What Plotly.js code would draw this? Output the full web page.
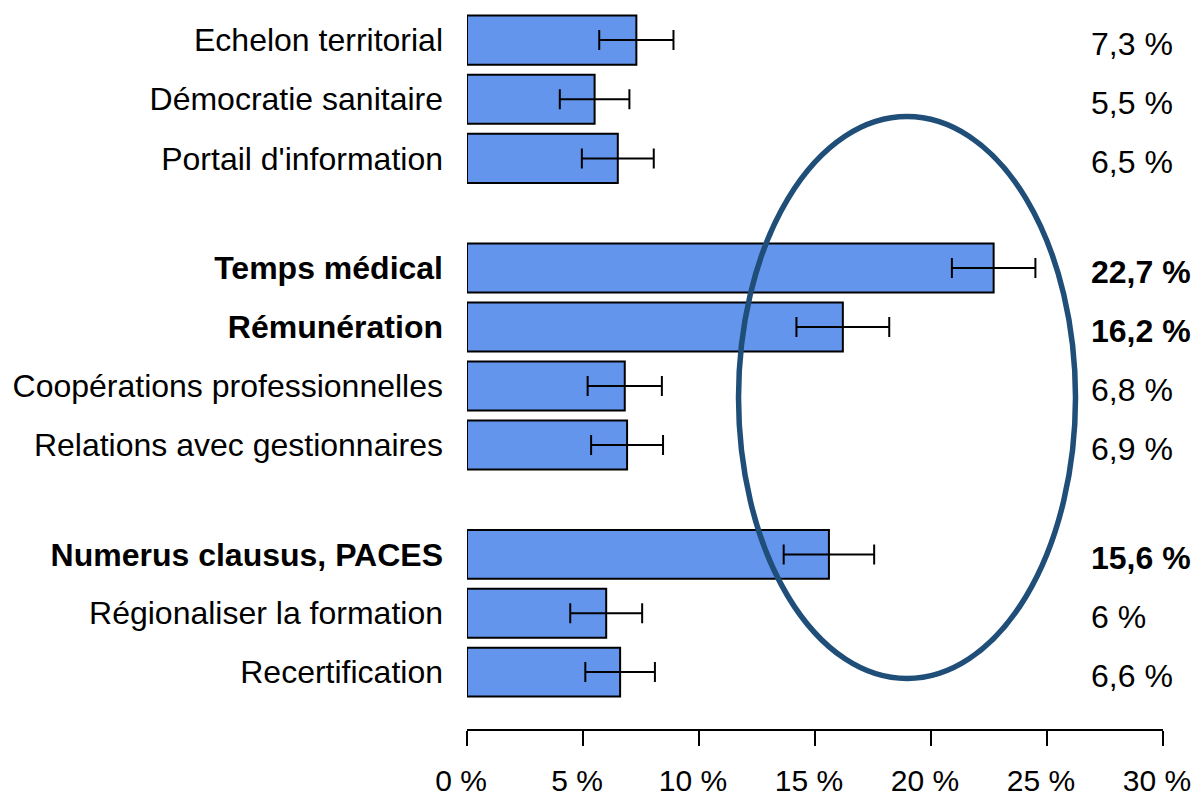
<!DOCTYPE html>
<html>
<head>
<meta charset="utf-8">
<script src="https://cdn.plot.ly/plotly-3.0.1.min.js"></script>
<style>html,body{margin:0;padding:0;background:#fff;}#chart{width:1197px;height:798px;}</style>
</head>
<body>
<div id="chart"></div>
<script>
// Data
const categories = [
  "Echelon territorial", "Démocratie sanitaire", "Portail d'information",
  "Temps médical", "Rémunération", "Coopérations professionnelles", "Relations avec gestionnaires",
  "Numerus clausus, PACES", "Régionaliser la formation", "Recertification"
];
const groups = [1, 1, 1, 2, 2, 2, 2, 3, 3, 3];
const values = [7.3, 5.5, 6.5, 22.7, 16.2, 6.8, 6.9, 15.6, 6.0, 6.6];
const errors = [1.6, 1.5, 1.55, 1.8, 2.0, 1.6, 1.55, 1.95, 1.55, 1.5];
const bold = [false, false, false, true, true, false, false, true, false, false];
const xTickVals = [0, 5, 10, 15, 20, 25, 30];
const xTickText = ["0 %", "5 %", "10 %", "15 %", "20 %", "25 %", "30 %"];

const FONT = "'Liberation Sans', Arial, sans-serif";
const FS = 32;
const fmt = v => String(v).replace('.', ',') + ' %';
const lab = (s, b) => b ? '<b>' + s + '</b>' : s;

// Group domains (paper fractions)
const domains = {1: [0.7528, 0.9993], 2: [0.3549, 0.6826], 3: [0.0396, 0.2847]};
const axisName = {1: 'y', 2: 'y2', 3: 'y3'};
const layoutAxisName = {1: 'yaxis', 2: 'yaxis2', 3: 'yaxis3'};

const traces = [];
const annotations = [];
const layout = {
  width: 1197, height: 798,
  margin: {l: 467, r: 34, t: 10, b: 68},
  paper_bgcolor: '#fff', plot_bgcolor: '#fff',
  showlegend: false,
  font: {family: FONT, size: FS, color: '#000'},
  bargap: 0.17,
  xaxis: {
    range: [0, 30], anchor: 'free', position: 0,
    tickvals: xTickVals, ticktext: xTickText,
    ticks: 'outside', ticklen: 15, tickwidth: 1.5, tickcolor: '#000',
    showline: true, linecolor: '#000', linewidth: 2,
    showgrid: false, zeroline: false, ticklabelstandoff: 9,
    ticklabeloverflow: 'allow', ticklabelshift: -6,
    tickfont: {family: FONT, size: 30, color: '#000'}
  },
  shapes: [{
    type: 'circle', xref: 'paper', yref: 'paper',
    x0: 0.3901, x1: 0.8743, y0: 0.0715, y1: 0.8521,
    line: {color: '#1f4e79', width: 5.5}, layer: 'above'
  }],
  annotations: annotations
};

[1, 2, 3].forEach(g => {
  const idx = groups.map((gg, i) => gg === g ? i : -1).filter(i => i >= 0);
  const cats = idx.map(i => lab(categories[i], bold[i]));
  traces.push({
    type: 'bar', orientation: 'h',
    x: idx.map(i => values[i]), y: cats,
    xaxis: 'x', yaxis: axisName[g],
    marker: {color: '#6495ED', line: {color: '#000', width: 2}},
    error_x: {type: 'data', array: idx.map(i => errors[i]), visible: true, color: '#000', thickness: 2, width: 10},
    hoverinfo: 'skip'
  });
  layout[layoutAxisName[g]] = {
    type: 'category', categoryorder: 'array', categoryarray: cats,
    range: [cats.length - 0.5, -0.5],
    domain: domains[g], anchor: 'x',
    showgrid: false, zeroline: false, showline: false, ticks: '',
    ticklabelstandoff: 23,
    tickfont: {family: FONT, size: FS, color: '#000'}
  };
  idx.forEach((i, k) => {
    annotations.push({
      xref: 'paper', yref: axisName[g], x: 0.894, y: cats[k],
      xanchor: 'left', yanchor: 'middle', yshift: -4, showarrow: false,
      text: lab(fmt(values[i]), bold[i]),
      font: {family: FONT, size: FS, color: '#000'}
    });
  });
});

Plotly.newPlot('chart', traces, layout, {displayModeBar: false, staticPlot: true});
</script>
</body>
</html>
